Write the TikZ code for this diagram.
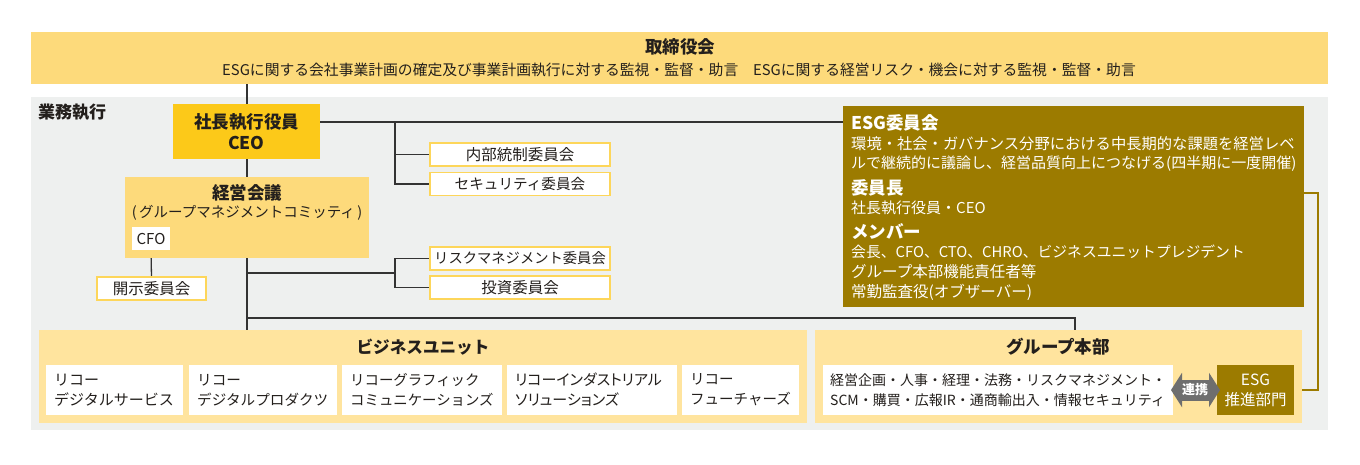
\documentclass[tikz,border=0pt]{standalone}
\usepackage{fontspec}
\setmainfont{Noto Sans CJK JP}
\usetikzlibrary{arrows.meta,calc}
\definecolor{bandY}{HTML}{FDDA7B}
\definecolor{ceoY}{HTML}{FCC919}
\definecolor{buY}{HTML}{FFE49E}
\definecolor{oliveC}{HTML}{9C7B00}
\definecolor{grayBG}{HTML}{EEF0EF}
\definecolor{borderY}{HTML}{FDD65A}
\definecolor{arrowG}{HTML}{6E6E6E}
\definecolor{lineC}{HTML}{333333}
\definecolor{txtC}{HTML}{231F1C}
\pgfdeclarelayer{bg}
\pgfsetlayers{bg,main}
\newcommand{\fz}[1]{\fontsize{#1}{20}\selectfont}
\newcommand{\fzb}[1]{\bfseries\fontsize{#1}{21}\selectfont}
\begin{document}
\begin{tikzpicture}[x=1pt,y=-1pt,
  box/.style={rectangle,inner sep=0pt,outer sep=0pt},
  conn/.style={draw=lineC,line width=1.3pt},
  olivel/.style={draw=oliveC,line width=1.3pt},
  cbox/.style={box,fill=white,draw=borderY,line width=1.6pt,minimum height=23pt,text=txtC},
  wbox/.style={box,fill=white,minimum height=50pt},
  txt/.style={text=txtC,inner sep=0pt},
  wtxt/.style={font=\fz{15},text=white,inner sep=0pt,anchor=west},
  wttl/.style={font=\fzb{17.5},text=white,inner sep=0pt,anchor=west},
  btxt/.style={text=txtC,inner sep=0pt,anchor=west,align=left}
]
\useasboundingbox (0,0) rectangle (1360,464);

% top band
\node[box,fill=bandY,minimum width=1297pt,minimum height=52pt] (band) at (679.5,58) {};
\node[txt,font=\fzb{17.5}] (bandT) at (680,47) {取締役会};
\node[txt,font=\fz{14.8}] (bandS) at (679,70) {ESGに関する会社事業計画の確定及び事業計画執行に対する監視・監督・助言\hspace{1em}ESGに関する経営リスク・機会に対する監視・監督・助言};

% execution area label
\node[txt,anchor=west,font=\fzb{17}] (gyomu) at (38,112) {業務執行};

% CEO
\node[box,fill=ceoY,minimum width=147pt,minimum height=55pt,align=center,font=\fzb{17.5},text=txtC] (ceo) at (246.5,131.5) {社長執行役員\\CEO};

% management meeting
\node[box,fill=bandY,minimum width=244pt,minimum height=81pt] (keiei) at (247,217.5) {};
\node[txt,font=\fzb{17.5}] (keieiT) at (247,193) {経営会議};
\node[txt,font=\fz{14.5}] (keieiS) at (247,213) {(\,グループマネジメントコミッティ\,)};
\node[box,fill=white,minimum width=38pt,minimum height=23pt,font=\fz{15},text=txtC] (cfo) at (151,238.5) {CFO};
\node[cbox,minimum width=109pt,font=\fz{15.5}] (kaiji) at (151.5,288.5) {開示委員会};

% committees
\node[cbox,minimum width=180pt,font=\fz{15.5}] (naibu) at (520,154.5) {内部統制委員会};
\node[cbox,minimum width=180pt,font=\fz{14.6}] (secu) at (520,184) {セキュリティ委員会};
\node[cbox,minimum width=180pt,font=\fz{14.3}] (risk) at (520,258.5) {リスクマネジメント委員会};
\node[cbox,minimum width=180pt,font=\fz{15.5}] (toushi) at (520,287.5) {投資委員会};

% ESG committee
\node[box,fill=oliveC,minimum width=461pt,minimum height=201pt] (esg) at (1073.5,206.5) {};
\node[wttl] (esgT) at (851,123) {ESG委員会};
\node[wtxt,font=\fz{15.3}] (esgL1) at (851,144) {環境・社会・ガバナンス分野における中長期的な課題を経営レベ};
\node[wtxt] (esgL2) at (851,164) {ルで継続的に議論し、経営品質向上につなげる(四半期に一度開催)};
\node[wttl] (esgC) at (851,188) {委員長};
\node[wtxt] (esgC1) at (851,208) {社長執行役員・CEO};
\node[wttl] (esgM) at (851,232) {メンバー};
\node[wtxt,font=\fz{14.8}] (esgM1) at (851,252) {会長、CFO、CTO、CHRO、ビジネスユニットプレジデント};
\node[wtxt,font=\fz{15.5}] (esgM2) at (851,272) {グループ本部機能責任者等};
\node[wtxt,font=\fz{15.5}] (esgM3) at (851,292) {常勤監査役(オブザーバー)};

% business units
\node[box,fill=buY,minimum width=768pt,minimum height=93pt] (bu) at (423,376.5) {};
\node[txt,font=\fzb{16.6}] (buT) at (423,347) {ビジネスユニット};
\node[wbox,minimum width=137pt] (bu1) at (114.5,390) {};
\node[wbox,minimum width=148pt] (bu2) at (263,390) {};
\node[wbox,minimum width=160pt] (bu3) at (422,390) {};
\node[wbox,minimum width=170pt] (bu4) at (592,390) {};
\node[wbox,minimum width=117pt] (bu5) at (740.5,390) {};
\node[btxt,font=\fz{15}] (bu1t) at ([xshift=8pt]bu1.west) {リコー\\デジタルサービス};
\node[btxt,font=\fz{14.6}] (bu2t) at ([xshift=8pt]bu2.west) {リコー\\デジタルプロダクツ};
\node[btxt,font=\fz{14.4}] (bu3t) at ([xshift=8pt]bu3.west) {リコーグラフィック\\コミュニケーションズ};
\node[btxt,font={\fz{15}\addfontfeatures{RawFeature=+palt}}] (bu4t) at ([xshift=8pt]bu4.west) {リコーインダストリアル\\ソリューションズ};
\node[btxt,font=\fz{14.5}] (bu5t) at ([xshift=8pt]bu5.west) {リコー\\フューチャーズ};

% group HQ
\node[box,fill=buY,minimum width=487pt,minimum height=93pt] (grp) at (1058.5,376.5) {};
\node[txt,font=\fzb{17.5}] (grpT) at (1058,347) {グループ本部};
\node[wbox,minimum width=350pt] (grpw) at (998,390) {};
\node[btxt,font=\fz{14}] (grpwt) at ([xshift=7pt]grpw.west) {経営企画・人事・経理・法務・リスクマネジメント・\\SCM・購買・広報IR・通商輸出入・情報セキュリティ};
\node[box,fill=oliveC,minimum width=77pt,minimum height=50pt,align=center,font=\fz{15.5},text=white] (esgp) at (1255.5,390) {ESG\\推進部門};

% link arrow
\draw[draw=arrowG,line width=21pt,{Triangle[length=11pt,width=34pt]}-{Triangle[length=11pt,width=34pt]},shorten <=-2pt,shorten >=-3pt] (grpw.east) -- (esgp.west)
  node[midway,font=\fzb{13},text=white,inner sep=0pt] (renkei) {連携};

\begin{pgfonlayer}{bg}
  \fill[white] (0,0) rectangle (1360,464);
  \fill[grayBG] (31,97) rectangle (1328,430);
  % trunk
  \draw[conn] (band.south -| keiei.north) -- (ceo.north -| keiei.north);
  \draw[conn] (ceo.south -| keiei.north) -- (keiei.north);
  \draw[conn] (keiei.south) -- (bu.north -| keiei.south);
  % CEO to ESG committee
  \coordinate (b1) at (395,122);
  \draw[conn] (b1 -| ceo.east) -- (b1 -| esg.west);
  \draw[conn] (b1) |- (secu.west);
  \draw[conn] (b1 |- naibu.west) -- (naibu.west);
  % management meeting to committees
  \coordinate (b2) at (395,273);
  \draw[conn] (b2 -| keiei.south) -- (b2);
  \draw[conn] (risk.west) -- (risk.west -| b2) -- (toushi.west -| b2) -- (toushi.west);
  % CFO to disclosure
  \draw[conn] (cfo.south) -- (kaiji.north);
  % to group HQ
  \coordinate (b3) at (247,318);
  \draw[conn] (b3) -| ([xshift=16.5pt]grp.north);
  % ESG committee to ESG promotion
  \draw[olivel] ([yshift=13.5pt]esg.east) -- ++(14,0) |- (esgp.east);
\end{pgfonlayer}
\end{tikzpicture}
\end{document}
